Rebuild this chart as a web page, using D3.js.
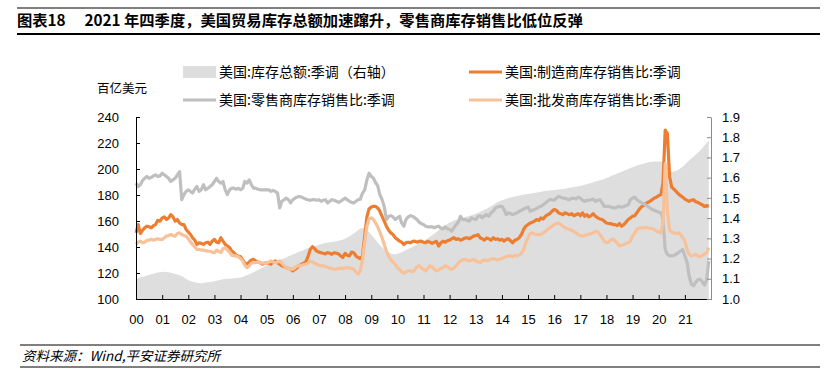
<!DOCTYPE html>
<html>
<head>
<meta charset="utf-8">
<script src="https://cdn.jsdelivr.net/npm/d3@7"></script>
<style>
  body { margin: 0; background: #fff; }
  svg { display: block; font-family: "Liberation Sans", Arial, "Noto Sans CJK SC", sans-serif; }
  .cn { font-family: "Noto Sans CJK SC", sans-serif; }
</style>
</head>
<body>
<div id="chart"></div>
<script>
// monthly, Jan 2000 .. Dec 2021 (one row per year)
const totalInventory = [ // 百亿美元, left axis
  115.5,116,116.5,117,117.5,118,118.5,119,119.5,120,120.3,120.6,
  120.8,121,120.8,120.5,120.2,119.8,119.3,118.8,118.2,117.5,116.5,115.5,
  114.5,113.8,113.2,112.8,112.5,112.3,112.2,112.4,112.6,112.8,113,113.3,
  113.6,114,114.4,114.8,115.1,115.3,115.5,115.6,115.7,115.9,116.1,116.3,
  116.6,117,117.6,118.3,119,119.8,120.6,121.5,122.4,123.3,124.2,125,
  125.8,126.5,127.2,127.9,128.6,129.3,130,130.6,131.3,132,132.8,133.5,
  134.2,134.9,135.6,136.3,137,137.7,138.4,139,139.6,140.2,140.7,141.2,
  141.7,142.2,142.6,143,143.3,143.6,143.9,144.2,144.5,144.8,145.2,145.6,
  146.5,147.3,148.2,149.2,150.3,151.5,152.8,154.2,154.7,154.3,153.2,151.5,
  149.5,147.5,145.5,143.5,141.5,139.8,138.2,137,136,135,134.5,134.4,
  134.8,135.4,136,136.8,137.6,138.4,139.2,140,141,142,142.8,143.5,
  144.5,145.5,146.5,147.8,149,150.2,151.5,152.8,154,155.3,156.6,157.8,
  158.8,159.6,160.3,160.9,161.4,161.9,162.4,162.9,163.4,163.9,164.4,165,
  165.6,166.3,167,167.8,168.6,169.5,170.4,171.4,172.4,173.4,174.4,175.3,
  175.9,176.5,177.1,177.6,178,178.4,178.8,179.2,179.6,180,180.3,180.5,
  180.7,181,181.3,181.6,181.9,182.2,182.5,182.8,183,183.2,183.4,183.6,
  183.8,184,184.2,184.4,184.6,184.9,185.2,185.5,185.8,186.1,186.4,186.7,
  187,187.4,187.8,188.3,188.8,189.3,189.8,190.3,190.8,191.3,191.8,192.3,
  193,193.7,194.4,195.1,195.8,196.5,197.2,197.9,198.6,199.3,200,200.7,
  201.4,202,202.6,203.1,203.6,204.1,204.6,205,205.4,205.6,205.7,205.8,
  205.8,205.7,205.2,204,201.5,199,197.8,198,198.7,199.5,200.5,201.8,
  203.5,205,206.5,208,209.5,211,212.5,214.2,216,218,220,222
];

const mfgRatio = [ // 制造商库存销售比
  1.327,1.368,1.324,1.340,1.352,1.360,1.357,1.352,1.363,1.368,1.389,1.385,
  1.401,1.406,1.393,1.401,1.417,1.406,1.385,1.393,1.376,1.368,1.368,1.344,
  1.331,1.319,1.303,1.291,1.270,1.278,1.275,1.270,1.278,1.281,1.270,1.286,
  1.295,1.281,1.278,1.303,1.286,1.270,1.262,1.254,1.237,1.229,1.216,1.213,
  1.209,1.193,1.177,1.172,1.183,1.193,1.196,1.188,1.183,1.180,1.172,1.177,
  1.180,1.177,1.172,1.183,1.188,1.180,1.172,1.164,1.160,1.155,1.151,1.147,
  1.139,1.147,1.155,1.164,1.172,1.177,1.183,1.209,1.245,1.259,1.249,1.237,
  1.232,1.229,1.226,1.223,1.229,1.226,1.221,1.229,1.226,1.223,1.213,1.205,
  1.226,1.216,1.213,1.232,1.229,1.213,1.205,1.200,1.213,1.311,1.406,1.445,
  1.455,1.458,1.458,1.450,1.434,1.409,1.385,1.360,1.340,1.327,1.319,1.303,
  1.295,1.286,1.281,1.270,1.278,1.281,1.278,1.285,1.286,1.281,1.285,1.286,
  1.281,1.278,1.285,1.281,1.275,1.281,1.285,1.262,1.278,1.286,1.281,1.288,
  1.291,1.298,1.303,1.295,1.298,1.291,1.295,1.301,1.303,1.298,1.304,1.311,
  1.314,1.318,1.303,1.298,1.291,1.301,1.298,1.291,1.303,1.295,1.298,1.291,
  1.295,1.286,1.295,1.298,1.288,1.278,1.291,1.295,1.303,1.319,1.344,1.360,
  1.368,1.376,1.380,1.385,1.393,1.389,1.401,1.396,1.409,1.417,1.422,1.434,
  1.442,1.439,1.426,1.422,1.417,1.426,1.422,1.417,1.422,1.412,1.417,1.422,
  1.412,1.426,1.409,1.417,1.406,1.412,1.422,1.409,1.401,1.396,1.393,1.385,
  1.376,1.373,1.373,1.368,1.368,1.363,1.373,1.360,1.368,1.380,1.393,1.401,
  1.409,1.412,1.426,1.442,1.455,1.462,1.471,1.478,1.483,1.491,1.499,1.504,
  1.511,1.516,1.573,1.835,1.818,1.606,1.553,1.543,1.532,1.520,1.511,1.504,
  1.494,1.488,1.483,1.488,1.491,1.481,1.478,1.471,1.466,1.458,1.462,1.458
];

const retailRatio = [ // 零售商库存销售比
  1.573,1.556,1.565,1.586,1.597,1.606,1.597,1.601,1.609,1.614,1.606,1.609,
  1.622,1.614,1.606,1.597,1.581,1.589,1.597,1.614,1.630,1.491,1.516,1.532,
  1.540,1.532,1.524,1.543,1.556,1.532,1.540,1.565,1.540,1.548,1.556,1.565,
  1.581,1.597,1.581,1.573,1.581,1.540,1.516,1.540,1.548,1.548,1.543,1.548,
  1.540,1.548,1.581,1.573,1.589,1.565,1.548,1.548,1.543,1.540,1.540,1.540,
  1.540,1.540,1.532,1.537,1.532,1.524,1.450,1.483,1.491,1.499,1.491,1.475,
  1.491,1.499,1.504,1.507,1.504,1.499,1.494,1.491,1.488,1.491,1.491,1.488,
  1.491,1.483,1.488,1.491,1.475,1.483,1.491,1.488,1.483,1.478,1.483,1.491,
  1.499,1.491,1.483,1.478,1.475,1.483,1.491,1.494,1.524,1.540,1.589,1.622,
  1.606,1.597,1.576,1.560,1.516,1.491,1.458,1.393,1.409,1.412,1.406,1.393,
  1.401,1.409,1.376,1.360,1.393,1.406,1.412,1.409,1.401,1.393,1.380,1.373,
  1.368,1.360,1.357,1.357,1.357,1.352,1.357,1.360,1.350,1.347,1.357,1.347,
  1.344,1.335,1.352,1.368,1.380,1.409,1.393,1.393,1.389,1.385,1.401,1.396,
  1.393,1.409,1.412,1.401,1.412,1.417,1.409,1.426,1.434,1.450,1.455,1.458,
  1.458,1.442,1.417,1.426,1.422,1.417,1.422,1.426,1.434,1.439,1.445,1.450,
  1.455,1.434,1.439,1.442,1.448,1.455,1.458,1.466,1.475,1.483,1.491,1.491,
  1.488,1.499,1.507,1.504,1.499,1.499,1.494,1.491,1.498,1.499,1.494,1.504,
  1.499,1.488,1.483,1.488,1.488,1.491,1.494,1.483,1.488,1.491,1.475,1.458,
  1.458,1.458,1.455,1.452,1.450,1.455,1.458,1.453,1.458,1.462,1.466,1.491,
  1.499,1.504,1.491,1.483,1.478,1.471,1.466,1.458,1.450,1.442,1.439,1.434,
  1.429,1.426,1.393,1.245,1.221,1.213,1.213,1.216,1.221,1.229,1.237,1.245,
  1.213,1.180,1.115,1.074,1.065,1.082,1.095,1.098,1.085,1.069,1.095,1.188
];

const wholesaleRatio = [ // 批发商库存销售比
  1.270,1.281,1.286,1.278,1.281,1.290,1.291,1.295,1.291,1.295,1.298,1.295,
  1.295,1.303,1.311,1.314,1.319,1.314,1.311,1.324,1.327,1.319,1.314,1.311,
  1.298,1.281,1.270,1.259,1.245,1.245,1.242,1.242,1.239,1.237,1.236,1.232,
  1.229,1.242,1.236,1.229,1.249,1.254,1.242,1.232,1.216,1.213,1.213,1.209,
  1.200,1.188,1.167,1.155,1.164,1.177,1.180,1.180,1.183,1.180,1.177,1.177,
  1.180,1.183,1.188,1.183,1.180,1.183,1.188,1.177,1.164,1.155,1.151,1.147,
  1.147,1.155,1.164,1.164,1.167,1.170,1.172,1.177,1.188,1.183,1.177,1.172,
  1.167,1.164,1.164,1.160,1.157,1.151,1.151,1.147,1.147,1.151,1.151,1.151,
  1.155,1.154,1.155,1.151,1.147,1.134,1.123,1.139,1.196,1.278,1.360,1.396,
  1.401,1.393,1.376,1.357,1.331,1.303,1.270,1.237,1.213,1.193,1.183,1.172,
  1.155,1.147,1.134,1.128,1.134,1.139,1.139,1.134,1.144,1.160,1.164,1.155,
  1.147,1.139,1.151,1.164,1.160,1.147,1.139,1.144,1.151,1.155,1.164,1.160,
  1.151,1.147,1.154,1.164,1.177,1.188,1.193,1.196,1.193,1.188,1.193,1.196,
  1.188,1.183,1.180,1.188,1.193,1.188,1.193,1.196,1.200,1.196,1.193,1.196,
  1.200,1.205,1.209,1.213,1.213,1.209,1.216,1.213,1.219,1.226,1.245,1.278,
  1.303,1.324,1.327,1.321,1.319,1.318,1.319,1.327,1.334,1.344,1.352,1.360,
  1.368,1.373,1.376,1.368,1.360,1.352,1.347,1.344,1.340,1.334,1.327,1.319,
  1.314,1.311,1.314,1.318,1.319,1.324,1.327,1.334,1.331,1.319,1.303,1.286,
  1.278,1.281,1.291,1.298,1.286,1.278,1.262,1.265,1.270,1.275,1.278,1.286,
  1.311,1.327,1.344,1.350,1.352,1.352,1.354,1.352,1.350,1.347,1.344,1.335,
  1.331,1.327,1.376,1.671,1.442,1.340,1.331,1.327,1.324,1.327,1.319,1.303,
  1.286,1.245,1.221,1.213,1.216,1.221,1.213,1.209,1.216,1.221,1.229,1.254
];

const yearLabels = ["00","01","02","03","04","05","06","07","08","09","10",
                    "11","12","13","14","15","16","17","18","19","20","21"];
const leftTicks = [100,120,140,160,180,200,220,240];
const rightTicks = [1.0,1.1,1.2,1.3,1.4,1.5,1.6,1.7,1.8,1.9];

const months = d3.timeMonth.range(new Date(2000, 0, 1), new Date(2022, 0, 1));

const W = 837, H = 383;
const plot = {left: 136, right: 711, top: 117, bottom: 299};

const svg = d3.select("#chart").append("svg")
  .attr("width", W).attr("height", H);

// title + rules
svg.append("line").attr("x1", 17).attr("x2", 820).attr("y1", 8).attr("y2", 8)
  .attr("stroke", "#000").attr("stroke-width", 1);
svg.append("text").attr("class", "cn")
  .attr("x", 17).attr("y", 26)
  .attr("font-size", 15.3).attr("font-weight", "bold")
  .text("图表18\u2003 2021 年四季度，美国贸易库存总额加速蹿升，零售商库存销售比低位反弹");
svg.append("line").attr("x1", 17).attr("x2", 820).attr("y1", 34).attr("y2", 34)
  .attr("stroke", "#000").attr("stroke-width", 2);

// scales
const x = d3.scaleTime()
  .domain([new Date(2000, 0, 1), new Date(2022, 0, 1)])
  .range([plot.left, plot.right]);
const yL = d3.scaleLinear().domain([100, 240]).range([plot.bottom, plot.top]);
const yR = d3.scaleLinear().domain([1.0, 1.9]).range([plot.bottom, plot.top]);

// area
const area = d3.area()
  .x((d, i) => x(months[i]))
  .y0(yL(100))
  .y1(d => yL(d));
svg.append("path").datum(totalInventory)
  .attr("fill", "#dedede").attr("d", area);

const ratioLine = d3.line()
  .x((d, i) => x(months[i]))
  .y(d => yR(d));

const series = [
  {data: mfgRatio, color: "#ed7d31"},
  {data: retailRatio, color: "#bfbfbf"},
  {data: wholesaleRatio, color: "#f7c29a"}
];
series.forEach(s => {
  svg.append("path").datum(s.data)
    .attr("fill", "none")
    .attr("stroke", s.color)
    .attr("stroke-width", 3.2)
    .attr("stroke-linejoin", "round")
    .attr("d", ratioLine);
});

// axes
const yearTicks = d3.range(2000, 2023).map(y => new Date(y, 0, 1));
const xAxis = svg.append("g")
  .attr("transform", `translate(0,${plot.bottom})`)
  .call(d3.axisBottom(x).tickValues(yearTicks)
    .tickFormat((d, i) => yearLabels[i] || "")
    .tickSizeInner(-4).tickSizeOuter(0).tickPadding(16));

const leftAxis = svg.append("g")
  .attr("transform", `translate(${plot.left},0)`)
  .call(d3.axisLeft(yL).tickValues(leftTicks)
    .tickSizeInner(-4).tickSizeOuter(0).tickPadding(17));

const rightAxis = svg.append("g")
  .attr("transform", `translate(${plot.right},0)`)
  .call(d3.axisRight(yR).tickValues(rightTicks).tickFormat(d3.format(".1f"))
    .tickSizeInner(-4).tickSizeOuter(0).tickPadding(11));

[xAxis, leftAxis].forEach(g => {
  g.selectAll("path, line").attr("stroke", "#000");
});
rightAxis.selectAll("path, line").attr("stroke", "#8c8c8c");
[xAxis, leftAxis, rightAxis].forEach(g => {
  g.selectAll("text").attr("font-size", 13).attr("fill", "#000")
    .attr("font-family", "'Liberation Sans', Arial, sans-serif");
});

// unit label
svg.append("text").attr("class", "cn")
  .attr("x", 97).attr("y", 93).attr("font-size", 12.5)
  .text("百亿美元");

// legend
const legend = [
  {label: "美国:库存总额:季调（右轴）", kind: "area", color: "#dedede", x: 183, y: 72},
  {label: "美国:制造商库存销售比:季调", kind: "line", color: "#ed7d31", x: 469, y: 72},
  {label: "美国:零售商库存销售比:季调", kind: "line", color: "#bfbfbf", x: 183, y: 100},
  {label: "美国:批发商库存销售比:季调", kind: "line", color: "#f7c29a", x: 469, y: 100}
];
const lg = svg.append("g").selectAll("g").data(legend).join("g")
  .attr("transform", d => `translate(${d.x},${d.y})`);
lg.filter(d => d.kind === "area").append("rect")
  .attr("x", 0).attr("y", -6).attr("width", 33).attr("height", 12)
  .attr("fill", d => d.color);
lg.filter(d => d.kind === "line").append("line")
  .attr("x1", 0).attr("x2", 33).attr("y1", 0).attr("y2", 0)
  .attr("stroke", d => d.color).attr("stroke-width", 3.2);
lg.append("text").attr("class", "cn")
  .attr("x", 36).attr("y", 5).attr("font-size", 14)
  .text(d => d.label);

// source
svg.append("line").attr("x1", 20).attr("x2", 820).attr("y1", 345).attr("y2", 345)
  .attr("stroke", "#000").attr("stroke-width", 1);
svg.append("text").attr("class", "cn")
  .attr("x", 22).attr("y", 361).attr("font-size", 13.5)
  .attr("font-style", "italic")
  .text("资料来源：Wind,平安证券研究所");
svg.append("line").attr("x1", 20).attr("x2", 820).attr("y1", 367).attr("y2", 367)
  .attr("stroke", "#000").attr("stroke-width", 1);
</script>
</body>
</html>
